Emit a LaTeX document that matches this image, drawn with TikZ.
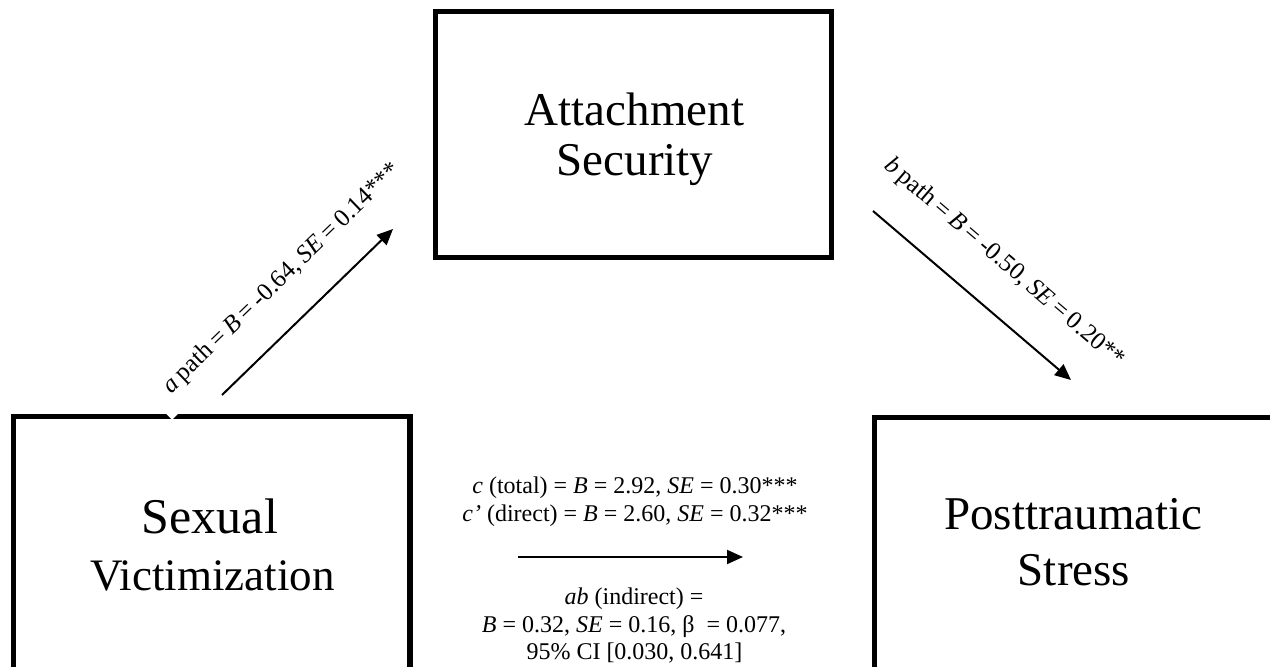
\documentclass[tikz,border=0pt]{standalone}
\usepackage{fontspec}
\setmainfont{Liberation Serif}
\usetikzlibrary{arrows.meta}
\newcommand{\tightspaces}{\spaceskip=5pt plus 1pt minus 1pt\relax}
\begin{document}
\begin{tikzpicture}[x=1pt,y=-1pt,
  box/.style={draw, line width=5.5pt, inner sep=0pt},
  big/.style={font=\fontsize{47}{50}\selectfont, anchor=base, inner sep=0pt},
  small/.style={font=\fontsize{24}{27}\selectfont, anchor=base, inner sep=0pt},
  rotlab/.style={font=\fontsize{25}{27}\selectfont},
  arr/.style={line width=2pt, -{Triangle[length=16pt,width=14pt]}}]
\useasboundingbox (0,0) rectangle (1270,667);
\fill[white] (0,0) rectangle (1270,667);
% boxes
\node[box, minimum width=396pt, minimum height=246pt] (att) at (633.5,134.5) {};
\node[box, minimum width=396.5pt, minimum height=263.5pt] (sex) at (211.75,548.25) {};
\node[box, minimum width=415.5pt, minimum height=262.5pt] (post) at (1082.25,548.75) {};
% box texts
\node[big] (att1) at (634.5,125) {Attachment};
\node[big] (att2) at (635,175) {Security};
\node[big, font=\fontsize{50}{50}\selectfont] (sv1) at (210,533) {Sexual};
\node[big, font=\fontsize{45}{45}\selectfont] (sv2) at (212.5,590) {Victimization};
\node[big] (pt1) at (1073.5,529) {Posttraumatic};
\node[big] (pt2) at (1074,585) {Stress};
% path labels
\node[rotlab, fill=white, rotate=44, anchor=south west,
      inner xsep=17pt, inner ysep=13.5pt] (alab) at (172,420)
      {\tightspaces\textit{a} path = \textit{B} = -0.64, \textit{SE} = 0.14***};
\node[rotlab, rotate=-40.5, inner sep=0pt] (blab) at (1004,263)
      {\tightspaces\textit{b} path = \textit{B} = -0.50, \textit{SE} = 0.20**};
% arrows
\coordinate (a1) at (222,395);
\coordinate (a2) at (393,229);
\coordinate (b1) at (873,211);
\coordinate (b2) at (1071,380);
\coordinate (c1s) at (518,557);
\coordinate (c1e) at (743,557);
\draw[arr] (a1) -- (a2);
\draw[arr] (b1) -- (b2);
\draw[arr] (c1s) -- (c1e);
% c / ab texts
\node[small] (c1) at (635,493) {\textit{c} (total) = \textit{B} = 2.92, \textit{SE} = 0.30***};
\node[small] (c2) at (635,521) {\textit{c’} (direct) = \textit{B} = 2.60, \textit{SE} = 0.32***};
\node[small] (ab1) at (634,604) {\textit{ab} (indirect) =};
\node[small] (ab2) at (634,632) {\textit{B} = 0.32, \textit{SE} = 0.16, β\ \ = 0.077,};
\node[small] (ab3) at (634.5,659) {95\% CI [0.030, 0.641]};
\end{tikzpicture}
\end{document}
